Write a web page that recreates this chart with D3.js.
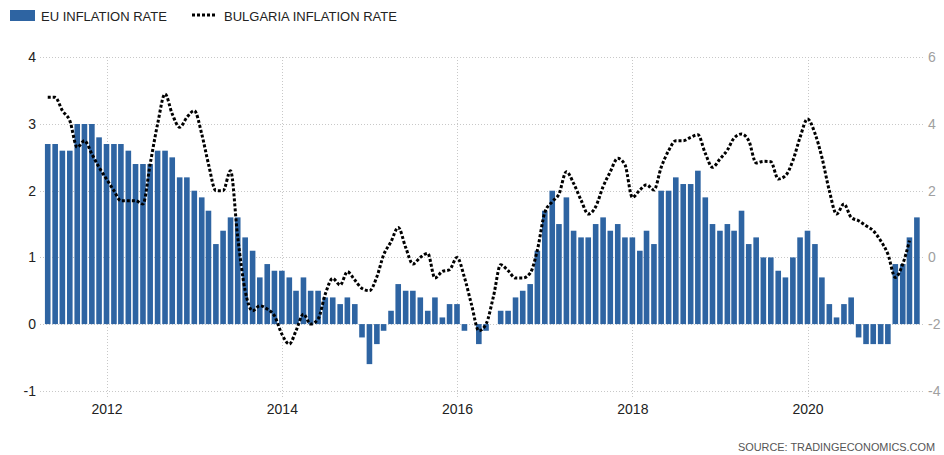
<!DOCTYPE html>
<html>
<head>
<meta charset="utf-8">
<script src="https://cdn.jsdelivr.net/npm/d3@7/dist/d3.min.js"></script>
<style>
  body { margin: 0; background: #fff; }
  svg { display: block; font-family: "Liberation Sans", Arial, sans-serif; }
</style>
</head>
<body>
<svg id="chart" width="944" height="455"></svg>
<script>
// Monthly series, May 2011 onwards
const firstMonth = new Date(2011, 4, 1);

// Euro area inflation rate, % (left axis), May 2011 – Apr 2021
const euRate = [
  2.7, 2.7, 2.6, 2.6, 3.0, 3.0, 3.0, 2.8,
  2.7, 2.7, 2.7, 2.6, 2.4, 2.4, 2.4, 2.6, 2.6, 2.5, 2.2, 2.2,
  2.0, 1.9, 1.7, 1.2, 1.4, 1.6, 1.6, 1.3, 1.1, 0.7, 0.9, 0.8,
  0.8, 0.7, 0.5, 0.7, 0.5, 0.5, 0.4, 0.4, 0.3, 0.4, 0.3, -0.2,
  -0.6, -0.3, -0.1, 0.2, 0.6, 0.5, 0.5, 0.4, 0.2, 0.4, 0.1, 0.3,
  0.3, -0.1, 0.0, -0.3, -0.1, 0.0, 0.2, 0.2, 0.4, 0.5, 0.6, 1.1,
  1.7, 2.0, 1.5, 1.9, 1.4, 1.3, 1.3, 1.5, 1.6, 1.4, 1.5, 1.3,
  1.3, 1.1, 1.4, 1.2, 2.0, 2.0, 2.2, 2.1, 2.1, 2.3, 1.9, 1.5,
  1.4, 1.5, 1.4, 1.7, 1.2, 1.3, 1.0, 1.0, 0.8, 0.7, 1.0, 1.3,
  1.4, 1.2, 0.7, 0.3, 0.1, 0.3, 0.4, -0.2, -0.3, -0.3, -0.3, -0.3,
  0.9, 0.9, 1.3, 1.6
];

// Bulgaria inflation rate, % (right axis), May 2011 – Mar 2021
const bgRate = [
  4.8, 4.8, 4.4, 4.1, 3.3, 3.5, 3.1, 2.7,
  2.35, 2.0, 1.7, 1.7, 1.7, 1.6, 2.8, 4.0, 4.9, 4.3, 3.9, 4.2,
  4.4, 3.7, 2.8, 2.0, 2.0, 2.6, 0.6, -1.0, -1.6, -1.45, -1.55, -1.75,
  -2.3, -2.6, -2.2, -1.7, -2.0, -1.85, -1.1, -0.63, -0.83, -0.43, -0.68, -0.93,
  -1.0, -0.58, 0.07, 0.47, 0.9, 0.3, -0.2, 0.0, 0.12, -0.62, -0.42, -0.37,
  0.0, -0.6, -1.4, -2.2, -2.0, -1.17, -0.22, -0.4, -0.62, -0.62, -0.47, 0.22,
  1.35, 1.67, 1.9, 2.57, 2.22, 1.72, 1.3, 1.52, 2.12, 2.57, 2.97, 2.78,
  1.8, 2.02, 2.18, 2.02, 2.7, 3.2, 3.5, 3.5, 3.6, 3.68, 3.12, 2.7,
  2.95, 3.22, 3.58, 3.7, 3.5, 2.83, 2.88, 2.87, 2.35, 2.45, 2.9, 3.6,
  4.15, 3.72, 3.0, 2.0, 1.3, 1.6, 1.2, 1.1, 0.95, 0.8, 0.5, 0.1,
  -0.6, -0.2, 0.5
];

const yearTicks = [2012, 2014, 2016, 2018, 2020];
const leftTicks = [-1, 0, 1, 2, 3, 4];
const rightTicks = [-4, -2, 0, 2, 4, 6];

const legendLabels = ["EU INFLATION RATE", "BULGARIA INFLATION RATE"];
const sourceText = "SOURCE:  TRADINGECONOMICS.COM";

const svg = d3.select("#chart");
const FONT = "'Liberation Sans', Arial, sans-serif";

const monthOf = i => d3.timeMonth.offset(firstMonth, i);
const euData = euRate.map((v, i) => ({ date: monthOf(i), value: v }));
const bgData = bgRate.map((v, i) => ({ date: monthOf(i), value: v }));

// Scales
const x = d3.scaleTime()
  .domain([new Date(2012, 0, 1), new Date(2020, 0, 1)])
  .range([106.5, 807.5]);
const yL = d3.scaleLinear().domain([-1, 4]).range([390.8, 57.3]);
const yR = d3.scaleLinear().domain([-4, 6]).range([390.8, 57.3]);

const plotLeft = 40, plotRight = 924;

// Grid
const grid = svg.append("g").attr("stroke", "#c8c8c8").attr("stroke-width", 1)
  .attr("stroke-dasharray", "1,2").attr("shape-rendering", "crispEdges");
grid.selectAll("line.h").data(leftTicks).join("line")
  .attr("class", "h")
  .attr("x1", plotLeft).attr("x2", plotRight)
  .attr("y1", d => Math.round(yL(d)) + 0.5).attr("y2", d => Math.round(yL(d)) + 0.5);
grid.selectAll("line.v").data(yearTicks).join("line")
  .attr("class", "v")
  .attr("x1", d => Math.round(x(new Date(d, 0, 1))) + 0.5)
  .attr("x2", d => Math.round(x(new Date(d, 0, 1))) + 0.5)
  .attr("y1", 57).attr("y2", 398);

// Bars
const barW = 5.6;
svg.append("g").selectAll("rect").data(euData).join("rect")
  .attr("x", d => x(d.date) - barW / 2)
  .attr("width", barW)
  .attr("y", d => yL(Math.max(0, d.value)))
  .attr("height", d => Math.abs(yL(d.value) - yL(0)))
  .attr("fill", "#2e64a2");

// Dotted line
const line = d3.line()
  .x(d => x(d.date))
  .y(d => yR(d.value))
  .curve(d3.curveMonotoneX);
svg.append("path").datum(bgData)
  .attr("d", line)
  .attr("fill", "none")
  .attr("stroke", "#000")
  .attr("stroke-width", 3)
  .attr("stroke-dasharray", "3,2");

// Axes (plain hyphen for negative labels)
const plainNum = d => String(d);

const axisL = svg.append("g").attr("transform", "translate(38,0)")
  .call(d3.axisLeft(yL).tickValues(leftTicks).tickSize(0).tickPadding(2).tickFormat(plainNum));
axisL.select(".domain").remove();
axisL.selectAll("text").attr("font-size", 14).attr("fill", "#222").attr("font-family", FONT);

const axisR = svg.append("g").attr("transform", "translate(926,0)")
  .call(d3.axisRight(yR).tickValues(rightTicks).tickSize(0).tickPadding(2).tickFormat(plainNum));
axisR.select(".domain").remove();
axisR.selectAll("text").attr("font-size", 14).attr("fill", "#a0a0a0").attr("font-family", FONT);

const axisB = svg.append("g").attr("transform", "translate(0,398)")
  .call(d3.axisBottom(x).tickValues(yearTicks.map(y => new Date(y, 0, 1)))
    .tickSize(0).tickPadding(6).tickFormat(d3.timeFormat("%Y")));
axisB.select(".domain").remove();
axisB.selectAll("text").attr("font-size", 14).attr("fill", "#222").attr("font-family", FONT);

// Legend
const legend = svg.append("g");
legend.append("rect").attr("x", 10).attr("y", 10).attr("width", 25).attr("height", 11).attr("fill", "#2e64a2");
legend.append("text").attr("x", 41).attr("y", 21).attr("font-size", 13).attr("fill", "#222")
  .text(legendLabels[0]);
legend.append("line").attr("x1", 192).attr("x2", 217).attr("y1", 15).attr("y2", 15)
  .attr("stroke", "#000").attr("stroke-width", 3).attr("stroke-dasharray", "3,2");
legend.append("text").attr("x", 224).attr("y", 21).attr("font-size", 13).attr("fill", "#222")
  .text(legendLabels[1]);

// Source
svg.append("text").attr("x", 738).attr("y", 451)
  .attr("font-size", 11).attr("fill", "#555")
  .attr("textLength", 197).attr("lengthAdjust", "spacingAndGlyphs")
  .text(sourceText);
</script>
</body>
</html>
